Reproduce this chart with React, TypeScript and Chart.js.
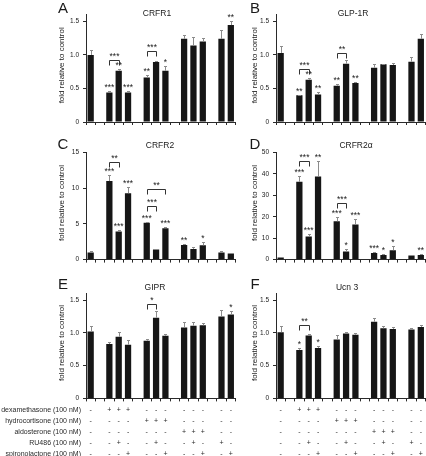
import React, { useEffect, useRef } from 'react';
import { Chart, registerables } from 'chart.js';

Chart.register(...registerables);

// ---------- categories (16 slots: control, gap, dex x3, gap, hc x3, gap, aldo x3, gap, RU486, spiro)
const SLOTS = ['control', 'g1', 'dex', 'dex+RU486', 'dex+spiro', 'g2', 'hc', 'hc+RU486', 'hc+spiro', 'g3', 'aldo', 'aldo+RU486', 'aldo+spiro', 'g4', 'RU486', 'spiro'];

// ---------- panel A: CRFR1
const CRFR1_MEAN = [1.0, null, 0.44, 0.765, 0.44, null, 0.665, 0.895, 0.765, null, 1.24, 1.14, 1.2, null, 1.24, 1.445];
const CRFR1_SEM = [0.07, 0, 0.02, 0.02, 0.02, 0, 0.04, 0.02, 0.07, 0, 0.06, 0.13, 0.06, 0, 0.13, 0.065];
const CRFR1_SIG = ['', '', '***', '**', '***', '', '**', '', '*', '', '', '', '', '', '', '**'];
const CRFR1_BRACKETS: [number, number, string, number][] = [[2, 3, '***', 0.925], [6, 7, '***', 1.06]];

// ---------- panel B: GLP-1R
const GLP1R_MEAN = [1.03, null, 0.4, 0.63, 0.41, null, 0.54, 0.87, 0.58, null, 0.81, 0.86, 0.85, null, 0.9, 1.24];
const GLP1R_SEM = [0.1, 0, 0.01, 0.02, 0.03, 0, 0.03, 0.05, 0.01, 0, 0.05, 0.01, 0.03, 0, 0.07, 0.07];
const GLP1R_SIG = ['', '', '**', '**', '**', '', '**', '', '**', '', '', '', '', '', '', ''];
const GLP1R_BRACKETS: [number, number, string, number][] = [[2, 3, '***', 0.785], [6, 7, '**', 1.03]];

// ---------- panel C: CRFR2
const CRFR2_MEAN = [1.0, null, 11.0, 3.95, 9.3, null, 5.15, 1.4, 4.4, null, 2.05, 1.5, 2.0, null, 1.0, 0.85];
const CRFR2_SEM = [0.2, 0, 0.85, 0.15, 0.8, 0, 0.15, 0.1, 0.1, 0, 0.15, 0.25, 0.4, 0, 0.15, 0.1];
const CRFR2_SIG = ['', '', '***', '***', '***', '', '***', '', '***', '', '**', '', '*', '', '', ''];
const CRFR2_BRACKETS: [number, number, string, number][] = [[2, 3, '**', 13.7], [6, 7, '***', 7.45], [6, 8, '**', 9.9]];

// ---------- panel D: CRFR2alpha
const CRFR2A_MEAN = [1.0, null, 36.3, 10.8, 38.8, null, 17.9, 3.8, 16.4, null, 3.1, 2.1, 4.4, null, 1.9, 2.2];
const CRFR2A_SEM = [0.3, 0, 2.8, 1.0, 7.0, 0, 2.0, 1.0, 2.5, 0, 0.4, 0.5, 1.8, 0, 0.3, 0.3];
const CRFR2A_SIG = ['', '', '***', '***', '**', '', '***', '*', '***', '', '***', '*', '*', '', '', '**'];
const CRFR2A_BRACKETS: [number, number, string, number][] = [[2, 3, '***', 45.9], [6, 7, '***', 26.4]];

// ---------- panel E: GIPR
const GIPR_MEAN = [1.02, null, 0.83, 0.94, 0.82, null, 0.88, 1.23, 0.955, null, 1.08, 1.11, 1.115, null, 1.25, 1.28];
const GIPR_SEM = [0.09, 0, 0.03, 0.07, 0.07, 0, 0.02, 0.1, 0.03, 0, 0.09, 0.05, 0.03, 0, 0.1, 0.06];
const GIPR_SIG = ['', '', '', '', '', '', '', '', '', '', '', '', '', '', '', '*'];
const GIPR_BRACKETS: [number, number, string, number][] = [[6, 7, '*', 1.435]];

// ---------- panel F: Ucn 3
const UCN3_MEAN = [1.01, null, 0.74, 0.96, 0.77, null, 0.9, 0.99, 0.97, null, 1.17, 1.07, 1.06, null, 1.05, 1.09];
const UCN3_SEM = [0.09, 0, 0.03, 0.02, 0.03, 0, 0.06, 0.03, 0.02, 0, 0.06, 0.03, 0.03, 0, 0.03, 0.03];
const UCN3_SIG = ['', '', '*', '', '*', '', '', '', '', '', '', '', '', '', '', ''];
const UCN3_BRACKETS: [number, number, string, number][] = [[2, 3, '**', 1.126]];

// ---------- tick labels
const FOLD_TICKS = [0, 0.5, 1.0, 1.5];
const CRFR2_TICKS = [0, 5, 10, 15];
const CRFR2A_TICKS = [0, 10, 20, 30, 40, 50];

// ---------- treatment table
const TREATMENT_LABELS = ['dexamethasone (100 nM)', 'hydrocortisone (100 nM)', 'aldosterone (100 nM)', 'RU486 (100 nM)', 'spironolactone (100 nM)'];
const DEX_ROW = ['-', '', '+', '+', '+', '', '-', '-', '-', '', '-', '-', '-', '', '-', '-'];
const HC_ROW = ['-', '', '-', '-', '-', '', '+', '+', '+', '', '-', '-', '-', '', '-', '-'];
const ALDO_ROW = ['-', '', '-', '-', '-', '', '-', '-', '-', '', '+', '+', '+', '', '-', '-'];
const RU486_ROW = ['-', '', '-', '+', '-', '', '-', '+', '-', '', '-', '+', '-', '', '+', '-'];
const SPIRO_ROW = ['-', '', '-', '-', '+', '', '-', '-', '+', '', '-', '-', '+', '', '-', '+'];
const TREATMENT_ROWS = [DEX_ROW, HC_ROW, ALDO_ROW, RU486_ROW, SPIRO_ROW];

const Y_TITLE = 'fold relative to control';

// ---------- styles / layout
const FONT = '"Liberation Sans", Arial, Helvetica, sans-serif';
const BAR_COLOR = '#161616';
const AXIS_COLOR = '#2a2a2a';
const ERR_COLOR = '#8c8c8c';
const TEXT_COLOR = '#1a1a1a';
const X_AXIS_H = 4;
const TABLE_Y = [410, 421, 432, 443, 454];
const TABLE_LABEL_RIGHT = 81;

type Def = {
  letter: string; title: string; mean: (number | null)[]; sem: number[]; sig: string[];
  brackets: [number, number, string, number][]; yMax: number; yTicks: number[];
  col: number; row: number; titleX: number; table: 'labels' | 'marks' | null;
};

const COLS = [
  { cx: 0, w: 240, areaL: 86, areaR: 235.5, ylabX: 62, letterX: 63 },
  { cx: 240, w: 186, areaL: 276, areaR: 425.5, ylabX: 255, letterX: 255 },
];
const ROWS = [
  { cy: 0, h: 135, areaT: 14.7, areaB: 122, letterY: 13, titleY: 16 },
  { cy: 135, h: 140, areaT: 152.5, areaB: 259.6, letterY: 149, titleY: 147.5 },
  { cy: 275, h: 181, areaT: 293.5, areaB: 398.4, letterY: 289, titleY: 290 },
];

const PANELS: Def[] = [
  { letter: 'A', title: 'CRFR1', mean: CRFR1_MEAN, sem: CRFR1_SEM, sig: CRFR1_SIG, brackets: CRFR1_BRACKETS, yMax: 1.6, yTicks: FOLD_TICKS, col: 0, row: 0, titleX: 157, table: null },
  { letter: 'B', title: 'GLP-1R', mean: GLP1R_MEAN, sem: GLP1R_SEM, sig: GLP1R_SIG, brackets: GLP1R_BRACKETS, yMax: 1.6, yTicks: FOLD_TICKS, col: 1, row: 0, titleX: 353, table: null },
  { letter: 'C', title: 'CRFR2', mean: CRFR2_MEAN, sem: CRFR2_SEM, sig: CRFR2_SIG, brackets: CRFR2_BRACKETS, yMax: 15, yTicks: CRFR2_TICKS, col: 0, row: 1, titleX: 160, table: null },
  { letter: 'D', title: 'CRFR2\u03b1', mean: CRFR2A_MEAN, sem: CRFR2A_SEM, sig: CRFR2A_SIG, brackets: CRFR2A_BRACKETS, yMax: 50, yTicks: CRFR2A_TICKS, col: 1, row: 1, titleX: 356, table: null },
  { letter: 'E', title: 'GIPR', mean: GIPR_MEAN, sem: GIPR_SEM, sig: GIPR_SIG, brackets: GIPR_BRACKETS, yMax: 1.6, yTicks: FOLD_TICKS, col: 0, row: 2, titleX: 155, table: 'labels' },
  { letter: 'F', title: 'Ucn 3', mean: UCN3_MEAN, sem: UCN3_SEM, sig: UCN3_SIG, brackets: UCN3_BRACKETS, yMax: 1.6, yTicks: FOLD_TICKS, col: 1, row: 2, titleX: 347, table: 'marks' },
];

function fmtTick(v: number, yMax: number) {
  if (yMax < 2) return v === 0 ? '0' : v.toFixed(1);
  return String(v);
}

function makeOverlay(def: Def) {
  const c = COLS[def.col];
  const r = ROWS[def.row];
  return {
    id: 'overlay' + def.letter,
    afterDraw(chart: any) {
      const ctx = chart.ctx as CanvasRenderingContext2D;
      const xs = chart.scales.x;
      const ys = chart.scales.y;
      const ox = c.cx;
      const oy = r.cy;
      const px = (i: number) => xs.getPixelForValue(i);
      ctx.save();

      // error bars
      ctx.strokeStyle = ERR_COLOR;
      ctx.lineWidth = 1;
      const errTop: number[] = [];
      def.mean.forEach((m, i) => {
        if (m == null) { errTop.push(NaN); return; }
        const x = Math.round(px(i)) + 0.5;
        const y0 = ys.getPixelForValue(m);
        const y1 = Math.round(ys.getPixelForValue(m + def.sem[i])) + 0.5;
        errTop.push(y1);
        ctx.beginPath();
        ctx.moveTo(x, y0);
        ctx.lineTo(x, y1);
        ctx.moveTo(x - 1.5, y1);
        ctx.lineTo(x + 1.5, y1);
        ctx.stroke();
      });

      // significance stars
      ctx.fillStyle = TEXT_COLOR;
      ctx.font = `8.5px ${FONT}`;
      ctx.textAlign = 'center';
      ctx.textBaseline = 'alphabetic';
      def.sig.forEach((s, i) => {
        if (!s || def.mean[i] == null) return;
        ctx.fillText(s, px(i), errTop[i] - 1.5);
      });

      // brackets
      ctx.strokeStyle = '#333';
      def.brackets.forEach(([a, b, label, level]) => {
        const x1 = Math.round(px(a)) + 0.5;
        const x2 = Math.round(px(b)) + 0.5;
        const y = Math.round(ys.getPixelForValue(level)) + 0.5;
        ctx.beginPath();
        ctx.moveTo(x1, y + 5);
        ctx.lineTo(x1, y);
        ctx.lineTo(x2, y);
        ctx.lineTo(x2, y + 5);
        ctx.stroke();
        ctx.fillText(label, (x1 + x2) / 2, y - 1.5);
      });

      // panel letter
      ctx.font = `15px ${FONT}`;
      ctx.fillText(def.letter, c.letterX - ox, r.letterY - oy);

      // title
      ctx.font = `8.5px ${FONT}`;
      ctx.fillText(def.title, def.titleX - ox, r.titleY - oy);

      // y-axis title
      ctx.save();
      ctx.font = `8px ${FONT}`;
      ctx.textBaseline = 'middle';
      ctx.translate(c.ylabX - ox, (chart.chartArea.top + chart.chartArea.bottom) / 2 - 3);
      ctx.rotate(-Math.PI / 2);
      ctx.fillText(Y_TITLE, 0, 0);
      ctx.restore();

      // treatment table
      if (def.table) {
        ctx.font = `7px ${FONT}`;
        ctx.fillStyle = '#2a2a2a';
        ctx.textBaseline = 'middle';
        TREATMENT_ROWS.forEach((row, ri) => {
          const y = TABLE_Y[ri] - oy;
          if (def.table === 'labels') {
            ctx.textAlign = 'right';
            ctx.fillText(TREATMENT_LABELS[ri], TABLE_LABEL_RIGHT - ox, y);
          }
          ctx.textAlign = 'center';
          row.forEach((s, i) => {
            if (s) ctx.fillText(s, px(i), y);
          });
        });
      }
      ctx.restore();
    },
  };
}

function Panel({ def }: { def: Def }) {
  const ref = useRef<HTMLCanvasElement>(null);
  const c = COLS[def.col];
  const r = ROWS[def.row];
  useEffect(() => {
    const canvas = ref.current;
    if (!canvas) return;
    const chart = new Chart(canvas, {
      type: 'bar',
      data: {
        labels: SLOTS,
        datasets: [{
          data: def.mean as any,
          backgroundColor: BAR_COLOR,
          borderWidth: 0,
          barPercentage: 0.67,
          categoryPercentage: 1,
        }],
      },
      options: {
        animation: false,
        responsive: false,
        events: [],
        layout: {
          padding: {
            left: 0,
            right: c.cx + c.w - c.areaR,
            top: r.areaT - r.cy,
            bottom: r.cy + r.h - r.areaB - X_AXIS_H,
          },
        },
        plugins: { legend: { display: false }, tooltip: { enabled: false }, title: { display: false } },
        scales: {
          x: {
            type: 'category',
            offset: true,
            grid: { offset: true, drawOnChartArea: false, drawTicks: true, tickLength: 3, color: AXIS_COLOR },
            border: { color: AXIS_COLOR },
            ticks: { display: false },
            afterFit: (s: any) => { s.height = X_AXIS_H; },
          },
          y: {
            min: 0,
            max: def.yMax,
            afterBuildTicks: (s: any) => { s.ticks = def.yTicks.map((v) => ({ value: v })); },
            ticks: {
              font: { family: FONT, size: 6.5 },
              color: TEXT_COLOR,
              padding: 4,
              callback: (v: any) => fmtTick(Number(v), def.yMax),
            },
            grid: { drawOnChartArea: false, tickLength: 3, color: AXIS_COLOR },
            border: { color: AXIS_COLOR },
            afterFit: (s: any) => { s.width = c.areaL - c.cx; },
          },
        },
      } as any,
      plugins: [makeOverlay(def)],
    });
    return () => chart.destroy();
  }, []);
  return (
    <canvas
      ref={ref}
      width={c.w}
      height={r.h}
      style={{ position: 'absolute', left: c.cx, top: r.cy, width: c.w, height: r.h }}
    />
  );
}

export default function App() {
  return (
    <div style={{ position: 'absolute', left: 0, top: 0, width: 426, height: 456, background: '#fff', overflow: 'hidden' }}>
      {PANELS.map((p) => <Panel key={p.letter} def={p} />)}
    </div>
  );
}
